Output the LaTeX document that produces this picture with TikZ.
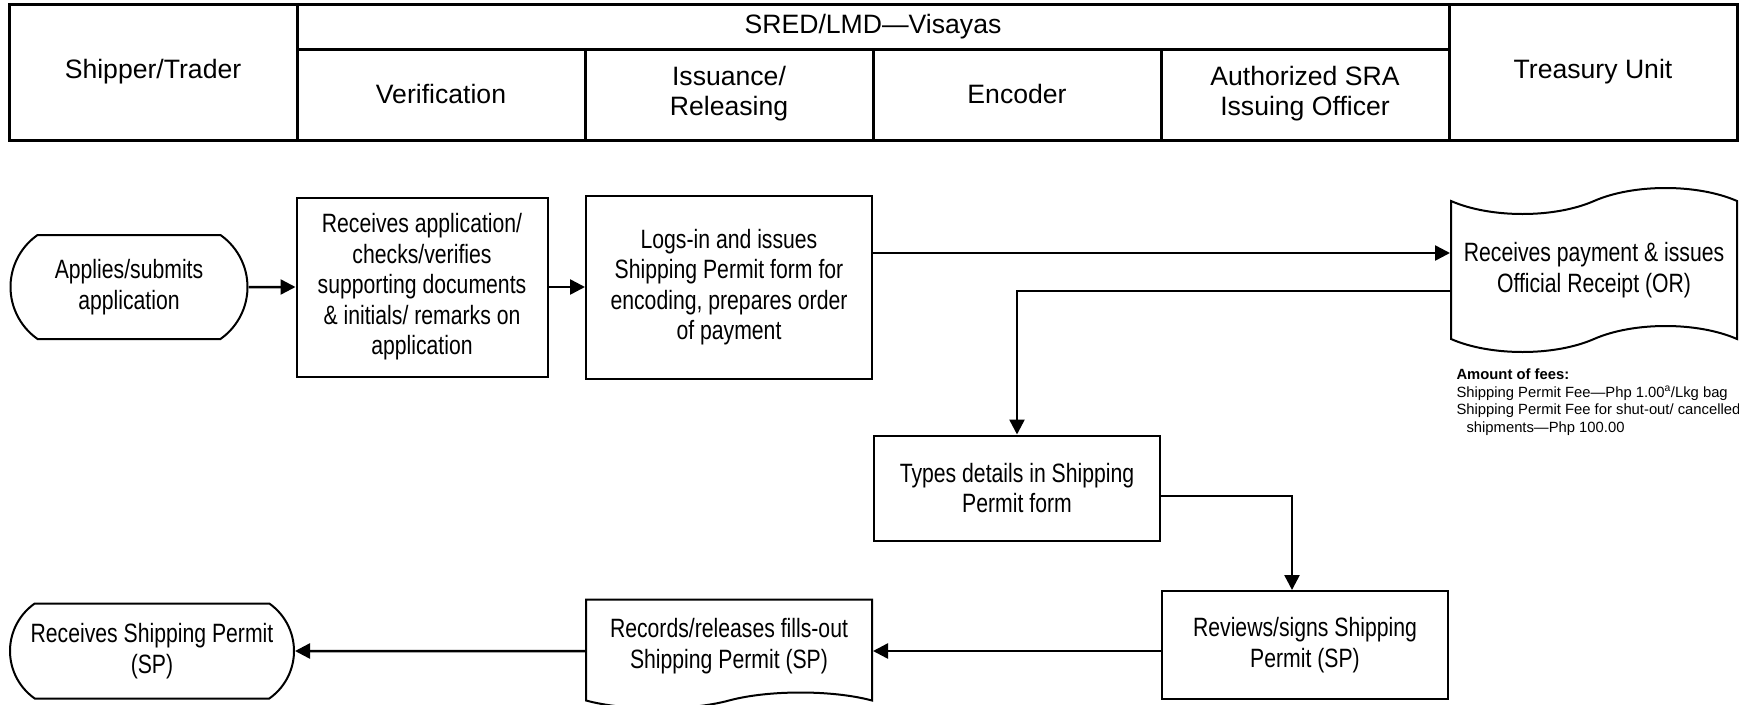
\documentclass[tikz,border=0pt]{standalone}
\usepackage{fontspec}
\setmainfont{Liberation Sans}
\newfontfamily\narrowfont{Liberation Sans}[FakeStretch=0.8]
\usetikzlibrary{arrows.meta,shapes.misc,shapes.symbols}

\begin{document}
\begin{tikzpicture}[x=1pt,y=-1pt,
	font=\fontsize{26.6}{30}\selectfont,
	every node/.style={align=center},
	box/.style={draw,line width=2pt,inner sep=0pt,minimum width=286pt,font=\narrowfont\fontsize{26.5}{30.5}\selectfont},
	term/.style={box,rounded rectangle,rounded rectangle arc length=110},
	doc/.style={box,tape,tape bend top=none},
	flow/.style={line width=2.5pt,-{Triangle[length=15pt,width=15pt]}},
	lane/.style={line width=3pt}]
	\useasboundingbox (0,0) rectangle (1739,704);
	% swimlane header
	\draw[lane] (9,4) rectangle (1737,140);
	\draw[lane] (297,4) -- (297,140);
	\draw[lane] (1449,4) -- (1449,140);
	\draw[lane] (297,49) -- (1449,49);
	\foreach \x in {585,873,1161}
		\draw[lane] (\x,49) -- (\x,140);
	\node (shipper) at (153,72) {Shipper/Trader};
	\node (sred) at (873,27) {SRED/LMD—Visayas};
	\node (verhead) at (441,94) {Verification};
	\node (isshead) at (729,94) {Issuance/\\Releasing};
	\node (enchead) at (1017,94) {Encoder};
	\node (offhead) at (1305,94) {Authorized SRA\\Issuing Officer};
	\node (treahead) at (1593,72) {Treasury Unit};
	% steps
	\node[term, minimum width=237pt, minimum height=104pt] (apply) at (129,287) {Applies/submits\\application};
	\node[box, minimum width=251pt, minimum height=179pt] (verify) at (422,287) {Receives application/\\checks/verifies\\supporting documents\\\& initials/ remarks on\\application};
	\node[box, minimum height=183pt] (logs) at (729,287) {Logs-in and issues\\Shipping Permit form for\\encoding, prepares order\\of payment};
	\node[doc, tape bend top=in and out, tape bend height=26pt, minimum height=164pt] (pay) at (1594,270) {Receives payment \& issues\\Official Receipt (OR)};
	\node[anchor=north west, align=left, font=\fontsize{14.8}{17.8}\selectfont] (fees) at (1453,365) {\textbf{Amount of fees:}\\Shipping Permit Fee—Php 1.00\textsuperscript{a}/Lkg bag\\Shipping Permit Fee for shut-out/ cancelled\\\hspace*{10pt}shipments—Php 100.00};
	\node[box, minimum height=105pt] (types) at (1017,488) {Types details in Shipping\\Permit form};
	\node[box, minimum height=108pt] (review) at (1305,645) {Reviews/signs Shipping\\Permit (SP)};
	\node[doc, tape bend height=16pt, minimum height=109pt] (records) at (729,646) {Records/releases fills-out\\Shipping Permit (SP)};
	\node[term, minimum width=284pt, minimum height=95pt] (receive) at (152,651) {Receives Shipping Permit\\(SP)};
	% flow
	\draw[flow] (apply) -- (verify);
	\draw[flow] (verify) -- (logs);
	\draw[flow] (logs.east |- 0,253) -- (pay.west |- 0,253);
	\draw[flow] (pay.west |- 0,291) -| (types);
	\draw[flow] (types.east |- 0,496) -| (review.north -| 1292,0);
	\draw[flow] (review.west |- receive) -- (records.east |- receive);
	\draw[flow] (records.west |- receive) -- (receive);
\end{tikzpicture}
\end{document}
